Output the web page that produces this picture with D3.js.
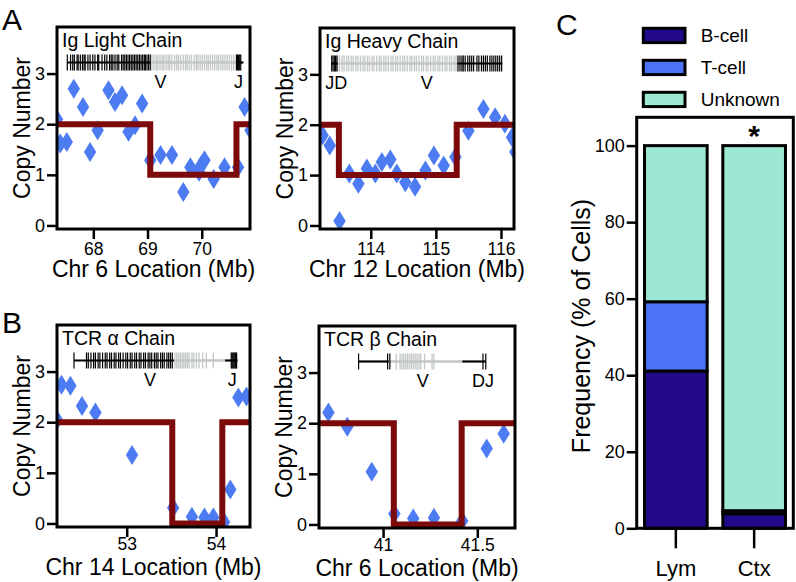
<!DOCTYPE html>
<html>
<head>
<meta charset="utf-8">
<script src="https://cdn.jsdelivr.net/npm/d3@7"></script>
<style>
    body { margin: 0; background: #fff; }
    text { font-family: "Liberation Sans", Arial, Helvetica, sans-serif; fill: #000; }
</style>
</head>
<body>
<script>
// ---- copy number panels: diamonds (Mb, copies), segment calls, gene tracks ----
let cnTicks = [0, 1, 2, 3];

// A left: Ig light chain, chr 6
let igkMb = [67.33, 67.39, 67.51, 67.64, 67.81, 67.94, 68.08, 68.28, 68.40, 68.53, 68.65, 68.77, 68.90,
             69.05, 69.24, 69.45, 69.66, 69.79, 69.95, 69.99, 70.05, 70.22, 70.42, 70.67, 70.79, 70.90];
let igkCn = [2.10, 1.62, 1.65, 2.70, 2.34, 1.45, 1.88, 2.67, 2.44, 2.57, 1.85, 1.98, 2.41,
             1.29, 1.39, 1.39, 0.66, 1.15, 1.06, 1.19, 1.29, 0.92, 1.15, 1.15, 2.34, 1.88];
let igkBreaks = [69.05, 70.64];
let igkLevels = [2, 1, 2];
let igkXTicks = [68, 69, 70];
let igkDark = [67.52, 67.58, 67.62, 67.65, 67.70, 67.72, 67.76, 67.80, 67.83, 67.85, 67.90, 67.94, 67.99,
               68.03, 68.08, 68.10, 68.16, 68.21, 68.25, 68.30, 68.33, 68.36, 68.40, 68.44, 68.47, 68.52,
               68.55, 68.58, 68.61, 68.64, 68.67, 68.70, 68.73, 68.76, 68.79, 68.82, 68.85, 68.88, 68.91,
               68.94, 68.96, 68.99, 69.02, 69.05, 70.64, 70.66, 70.68, 70.70, 70.72];
let igkLight = [69.08, 69.12, 69.16, 69.19, 69.23, 69.27, 69.30, 69.34, 69.38, 69.41, 69.45, 69.50, 69.54,
                69.57, 69.61, 69.66, 69.70, 69.73, 69.77, 69.81, 69.86, 69.90, 69.93, 69.97, 70.01, 70.05,
                70.09, 70.12, 70.16, 70.20, 70.24, 70.28, 70.31, 70.35, 70.39, 70.43, 70.47, 70.51, 70.55, 70.59];
let igkDarkSpans = [[67.52, 69.05], [70.64, 70.77]];
let igkLightSpans = [[69.05, 70.64]];
let igkSegments = ["V", "J"];
let igkSegmentMb = [69.24, 70.68];

// A right: Ig heavy chain, chr 12
let ighMb = [113.26, 113.37, 113.52, 113.67, 113.81, 113.94, 114.07, 114.17, 114.30, 114.40, 114.53,
             114.68, 114.84, 114.97, 115.12, 115.30, 115.50, 115.73, 115.91, 116.06, 116.17, 116.22];
let ighCn = [1.79, 1.59, 0.09, 1.03, 0.83, 1.13, 1.03, 1.26, 1.31, 1.03, 0.86,
             0.77, 1.09, 1.39, 1.19, 1.36, 1.88, 2.31, 2.15, 2.02, 1.75, 1.46];
let ighBreaks = [113.51, 115.32];
let ighLevels = [2, 1, 2];
let ighXTicks = [114, 115, 116];
let ighDark = [113.40, 113.42, 113.44, 113.46, 113.48, 115.34, 115.37, 115.40, 115.42, 115.45, 115.49,
               115.52, 115.55, 115.58, 115.63, 115.66, 115.70, 115.73, 115.76, 115.79, 115.83, 115.86,
               115.89, 115.92, 115.95, 115.98, 116.01];
let ighLight = [113.49, 113.52, 113.56, 113.59, 113.63, 113.66, 113.70, 113.73, 113.77, 113.80, 113.84,
                113.88, 113.91, 113.95, 113.98, 114.02, 114.05, 114.09, 114.13, 114.16, 114.20, 114.23,
                114.27, 114.31, 114.34, 114.38, 114.41, 114.45, 114.49, 114.52, 114.56, 114.60, 114.63,
                114.67, 114.70, 114.74, 114.78, 114.81, 114.85, 114.88, 114.92, 114.96, 114.99, 115.03,
                115.06, 115.10, 115.14, 115.17, 115.21, 115.24, 115.28, 115.31];
let ighDarkSpans = [[113.39, 113.49], [115.33, 116.02]];
let ighLightSpans = [[113.49, 115.33]];
let ighSegments = ["JD", "V"];
let ighSegmentMb = [113.47, 114.86];

// B left: TCR alpha, chr 14
let traMb = [52.22, 52.27, 52.37, 52.50, 52.65, 53.06, 53.52, 53.73, 53.87, 53.97, 54.09, 54.16, 54.25, 54.34];
let traCn = [2.05, 2.74, 2.72, 2.32, 2.19, 1.35, 0.31, 0.13, 0.12, 0.12, 0.03, 0.67, 2.49, 2.51];
let traBreaks = [53.51, 54.07];
let traLevels = [2, 0, 2];
let traXTicks = [53, 54];
let traDark = [52.41, 52.55, 52.57, 52.60, 52.63, 52.65, 52.68, 52.70, 52.73, 52.76, 52.78, 52.81, 52.83,
               52.86, 52.88, 52.91, 52.93, 52.96, 52.99, 53.01, 53.04, 53.06, 53.09, 53.11, 53.14, 53.16,
               53.19, 53.21, 53.24, 53.26, 53.28, 53.31, 53.33, 53.35, 53.38, 53.40, 53.42, 53.45, 53.47,
               53.49, 53.51, 54.17, 54.18, 54.19, 54.20, 54.21, 54.22, 54.23];
let traLight = [53.54, 53.56, 53.58, 53.60, 53.62, 53.64, 53.66, 53.68, 53.70, 53.73, 53.75, 53.78,
                53.81, 53.85, 53.89, 53.97];
let traDarkSpans = [[52.41, 53.53], [54.10, 54.24]];
let traLightSpans = [[53.53, 54.10]];
let traSegments = ["V", "J"];
let traSegmentMb = [53.26, 54.18];

// B right: TCR beta, chr 6
let trbMb = [40.71, 40.81, 40.94, 41.06, 41.16, 41.27, 41.42, 41.55, 41.64];
let trbCn = [2.21, 1.93, 1.04, 0.21, 0.12, 0.13, 0.07, 1.50, 1.79];
let trbBreaks = [41.057, 41.417];
let trbLevels = [2, 0, 2];
let trbXTicks = [41, 41.5];
let trbDark = [40.87, 41.024, 41.036, 41.53, 41.545];
let trbLight = [41.07, 41.09, 41.10, 41.11, 41.12, 41.13, 41.14, 41.15, 41.16, 41.17, 41.18, 41.19,
                41.20, 41.22, 41.26, 41.27];
let trbDarkSpans = [[40.87, 41.03], [41.42, 41.545]];
let trbLightSpans = [[41.03, 41.42]];
let trbSegments = ["V", "DJ"];
let trbSegmentMb = [41.21, 41.53];

// ---- panel C: cell identity ----
let tissues = ["Lym", "Ctx"];
let cellTypes = ["B-cell", "T-cell", "Unknown"];
let bCell = [41.1, 3.8];
let tCell = [18.1, 0.8];
let unknownCell = [40.8, 95.4];
let freqTicks = [0, 20, 40, 60, 80, 100];

let cnDomain = [-0.07, 3.92];
let diamond = "M0,-10L6.2,0L0,10L-6.2,0Z";

let svg = d3.select("body").append("svg")
    .attr("width", 796)
    .attr("height", 582);

let panels = [
    {id: "igk", title: "Ig Light Chain", xlab: "Chr 6 Location (Mb)",
     box: {left: 57, right: 250, top: 27, bottom: 229}, xDomain: [67.33, 70.89], xTicks: igkXTicks, pad: 4,
     mb: igkMb, cn: igkCn, breaks: igkBreaks, levels: igkLevels,
     dark: igkDark, light: igkLight, darkSpans: igkDarkSpans, lightSpans: igkLightSpans,
     segs: igkSegments, segMb: igkSegmentMb},
    {id: "igh", title: "Ig Heavy Chain", xlab: "Chr 12 Location (Mb)",
     box: {left: 320, right: 514, top: 28, bottom: 229}, xDomain: [113.22, 116.2], xTicks: ighXTicks, pad: 4,
     mb: ighMb, cn: ighCn, breaks: ighBreaks, levels: ighLevels,
     dark: ighDark, light: ighLight, darkSpans: ighDarkSpans, lightSpans: ighLightSpans,
     segs: ighSegments, segMb: ighSegmentMb},
    {id: "tra", title: "TCR \u03b1 Chain", xlab: "Chr 14 Location (Mb)",
     box: {left: 57, right: 250, top: 325, bottom: 527}, xDomain: [52.22, 54.38], xTicks: traXTicks, pad: 1,
     mb: traMb, cn: traCn, breaks: traBreaks, levels: traLevels,
     dark: traDark, light: traLight, darkSpans: traDarkSpans, lightSpans: traLightSpans,
     segs: traSegments, segMb: traSegmentMb},
    {id: "trb", title: "TCR \u03b2 Chain", xlab: "Chr 6 Location (Mb)",
     box: {left: 319, right: 515, top: 326, bottom: 528}, xDomain: [40.66, 41.70], xTicks: trbXTicks, pad: 1,
     mb: trbMb, cn: trbCn, breaks: trbBreaks, levels: trbLevels,
     dark: trbDark, light: trbLight, darkSpans: trbDarkSpans, lightSpans: trbLightSpans,
     segs: trbSegments, segMb: trbSegmentMb}
];

panels.forEach(drawPanel);
drawBars();

// panel letters
[["A", 2, 30], ["B", 2, 333], ["C", 556, 35]].forEach(l => {
    svg.append("text").text(l[0])
        .attr("x", l[1]).attr("y", l[2])
        .attr("font-size", 30);
});

function drawPanel(p) {
    let b = p.box;
    let x = d3.scaleLinear(p.xDomain, [b.left, b.right]);
    let y = d3.scaleLinear(cnDomain, [b.bottom, b.top]);
    let g = svg.append("g").attr("class", "panel " + p.id);

    g.append("clipPath").attr("id", "clip-" + p.id)
        .append("rect")
        .attr("x", b.left).attr("y", b.top)
        .attr("width", b.right - b.left).attr("height", b.bottom - b.top);

    let plot = g.append("g").attr("clip-path", `url(#clip-${p.id})`);

    plot.selectAll(".pt")
        .data(d3.zip(p.mb, p.cn))
        .join("path")
        .attr("class", "pt")
        .attr("d", diamond)
        .attr("transform", d => translate(x(d[0]), y(d[1])))
        .attr("fill", "#4d7bf1");

    // segmented copy number call, drawn as a step line
    let steps = [[p.xDomain[0] - 0.5, p.levels[0]]];
    p.breaks.forEach((bk, i) => steps.push([bk, p.levels[i + 1]]));
    steps.push([p.xDomain[1] + 0.5, p.levels[p.levels.length - 1]]);
    plot.append("path")
        .datum(steps)
        .attr("d", d3.line().x(d => x(d[0])).y(d => y(d[1])).curve(d3.curveStepAfter))
        .attr("fill", "none")
        .attr("stroke", "#7c0a0a")
        .attr("stroke-width", 6);

    // gene track
    let ty = b.top + 35.5;
    let track = g.append("g").attr("class", "track");
    track.selectAll(".lspan").data(p.lightSpans).join("line")
        .attr("x1", d => x(d[0])).attr("x2", d => x(d[1]))
        .attr("y1", ty).attr("y2", ty)
        .attr("stroke", "#c3c7c7").attr("stroke-width", 2.5);
    track.selectAll(".ltick").data(p.light).join("line")
        .attr("x1", d => x(d)).attr("x2", d => x(d))
        .attr("y1", ty - 8).attr("y2", ty + 8)
        .attr("stroke", "#c3c7c7").attr("stroke-width", 1.3);
    track.selectAll(".dspan").data(p.darkSpans).join("line")
        .attr("x1", d => x(d[0])).attr("x2", d => x(d[1]))
        .attr("y1", ty).attr("y2", ty)
        .attr("stroke", "#000").attr("stroke-width", 2.2);
    track.selectAll(".dtick").data(p.dark).join("line")
        .attr("x1", d => x(d)).attr("x2", d => x(d))
        .attr("y1", ty - 8).attr("y2", ty + 8)
        .attr("stroke", "#000").attr("stroke-width", 1.2);
    track.selectAll(".seg").data(p.segs).join("text")
        .text(d => d)
        .attr("x", (d, i) => x(p.segMb[i]))
        .attr("y", b.top + 61)
        .attr("text-anchor", "middle")
        .attr("font-size", 18);

    g.append("text").text(p.title)
        .attr("x", b.left + 5).attr("y", b.top + 19.5)
        .attr("font-size", 19.5);

    // frame
    g.append("rect")
        .attr("x", b.left).attr("y", b.top)
        .attr("width", b.right - b.left).attr("height", b.bottom - b.top)
        .attr("fill", "none").attr("stroke", "#000").attr("stroke-width", 3);

    let yAxis = g.append("g")
        .attr("transform", translate(b.left, 0))
        .call(d3.axisLeft(y).tickValues(cnTicks).tickFormat(d3.format("d"))
            .tickSize(10).tickPadding(2).tickSizeOuter(0));
    styleAxis(yAxis, 18);

    let xAxis = g.append("g")
        .attr("transform", translate(0, b.bottom))
        .call(d3.axisBottom(x).tickValues(p.xTicks).tickFormat(d3.format("~g"))
            .tickSize(10).tickPadding(p.pad).tickSizeOuter(0));
    styleAxis(xAxis, 17.5);

    g.append("text").text(p.xlab)
        .attr("x", (b.left + b.right) / 2).attr("y", b.bottom + 48)
        .attr("text-anchor", "middle")
        .attr("font-size", 23);
    g.append("text").text("Copy Number")
        .attr("transform", translate(b.left - 27, (b.top + b.bottom) / 2) + " rotate(-90)")
        .attr("text-anchor", "middle")
        .attr("font-size", 23);
}

function drawBars() {
    let colours = d3.scaleOrdinal(cellTypes, ["#22098b", "#4b73f6", "#9de8d2"]);
    let rows = tissues.map((t, i) => ({tissue: t, "B-cell": bCell[i], "T-cell": tCell[i], "Unknown": unknownCell[i]}));
    let series = d3.stack().keys(cellTypes)(rows);

    let frame = {left: 636.7, right: 793.3, top: 117.3, bottom: 528.3};
    let xScale = d3.scaleBand(tissues, [frame.left, frame.right])
        .paddingInner(0.2)
        .paddingOuter(0.1);
    let yScale = d3.scaleLinear([0, 107.4], [frame.bottom, frame.top]);

    let g = svg.append("g").attr("class", "bars");

    g.selectAll(".layer")
        .data(series)
        .join("g")
        .attr("class", "layer")
        .attr("fill", d => colours(d.key))
        .selectAll("rect")
        .data(d => d)
        .join("rect")
        .attr("x", d => xScale(d.data.tissue))
        .attr("y", d => yScale(d[1]))
        .attr("width", xScale.bandwidth())
        .attr("height", d => yScale(d[0]) - yScale(d[1]))
        .attr("stroke", "#000")
        .attr("stroke-width", 3);

    g.append("rect")
        .attr("x", frame.left).attr("y", frame.top)
        .attr("width", frame.right - frame.left).attr("height", frame.bottom - frame.top)
        .attr("fill", "none").attr("stroke", "#000").attr("stroke-width", 3);

    let yAxis = g.append("g")
        .attr("transform", translate(frame.left, 0))
        .call(d3.axisLeft(yScale).tickValues(freqTicks).tickSize(10).tickPadding(2).tickSizeOuter(0));
    styleAxis(yAxis, 18);

    let xAxis = g.append("g")
        .attr("transform", translate(0, frame.bottom))
        .call(d3.axisBottom(xScale).tickSize(20).tickPadding(12).tickSizeOuter(0));
    styleAxis(xAxis, 22);

    g.append("text").text("Frequency (% of Cells)")
        .attr("transform", translate(590, 326) + " rotate(-90)")
        .attr("text-anchor", "middle")
        .attr("font-size", 25);

    // significance mark over Ctx
    g.append("text").text("*")
        .attr("x", xScale("Ctx") + xScale.bandwidth() / 2)
        .attr("y", 146)
        .attr("text-anchor", "middle")
        .attr("font-weight", "bold")
        .attr("font-size", 30);

    // legend
    let legend = g.selectAll(".legend")
        .data(cellTypes)
        .join("g")
        .attr("class", "legend")
        .attr("transform", (d, i) => translate(643.3, 28.3 + i * 32));
    legend.append("rect")
        .attr("width", 41.7).attr("height", 14.3)
        .attr("fill", d => colours(d))
        .attr("stroke", "#000").attr("stroke-width", 3);
    legend.append("text")
        .text(d => d)
        .attr("x", 57.4).attr("y", 7.2)
        .attr("dy", "0.35em")
        .attr("font-size", 19);
}

function styleAxis(ax, size) {
    ax.attr("font-family", null).attr("font-size", null);
    ax.select(".domain").remove();
    ax.selectAll("line").attr("stroke", "#000").attr("stroke-width", 2.5);
    ax.selectAll("text").attr("font-size", size).attr("fill", "#000");
}

function translate(x, y) {
    return `translate(${x}, ${y})`;
}
</script>
</body>
</html>
